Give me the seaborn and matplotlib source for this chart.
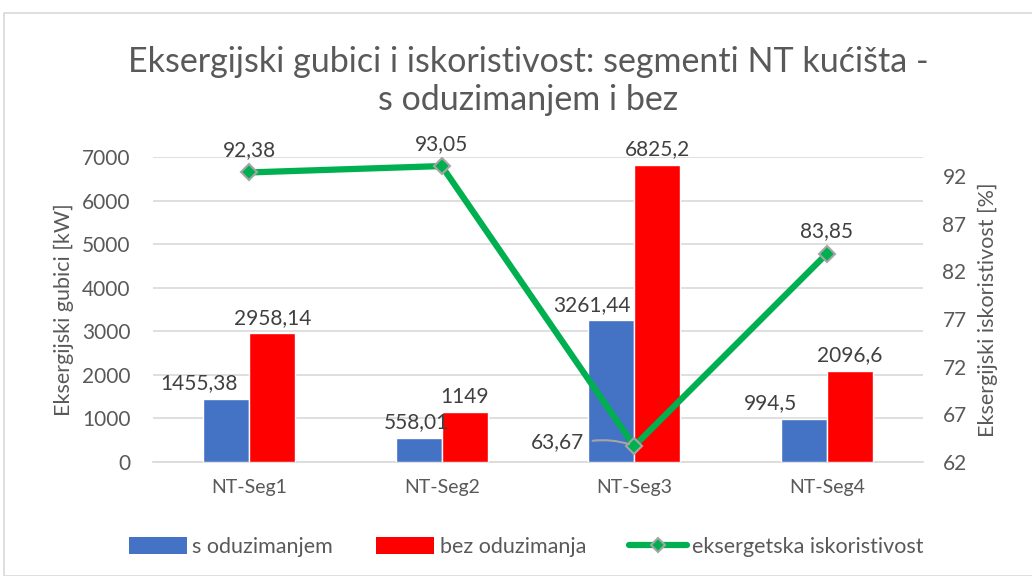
import matplotlib
matplotlib.use("Agg")
import matplotlib.pyplot as plt
from matplotlib.patches import Rectangle
from matplotlib.lines import Line2D
from matplotlib.patches import Patch
import seaborn as sns
import pandas as pd
import numpy as np

segments = ["NT-Seg1", "NT-Seg2", "NT-Seg3", "NT-Seg4"]
s_oduzimanjem = [1455.38, 558.01, 3261.44, 994.5]
bez_oduzimanja = [2958.14, 1149, 6825.2, 2096.6]
iskoristivost = [92.38, 93.05, 63.67, 83.85]
series_names = ["s oduzimanjem", "bez oduzimanja", "eksergetska iskoristivost"]
left_ticks = [0, 1000, 2000, 3000, 4000, 5000, 6000, 7000]
right_ticks = [62, 67, 72, 77, 82, 87, 92]

BLUE = "#4472C4"
RED = "#FF0000"
GREEN = "#00B050"
TEXT = "#595959"
GRID = "#D9D9D9"

sns.set_theme(style="white")
plt.rcParams["font.family"] = ["Lato", "DejaVu Sans"]
plt.rcParams["text.color"] = TEXT

def fmt(v):
    s = f"{v:.2f}".rstrip("0").rstrip(".")
    return s.replace(".", ",")

df = pd.DataFrame({
    "segment": segments * 2,
    "value": s_oduzimanjem + bez_oduzimanja,
    "serija": [series_names[0]] * 4 + [series_names[1]] * 4,
})

fig = plt.figure(figsize=(10.32, 5.76), dpi=100)
fig.patches.append(Rectangle((4 / 1032, 0), 1.0, (576 - 13) / 576, transform=fig.transFigure,
                             fill=False, edgecolor="#D9D9D9", linewidth=1.2, zorder=0))

ax = fig.add_axes([153 / 1032, (576 - 462) / 576, (923 - 153) / 1032, (462 - 157) / 576])
sns.barplot(data=df, x="segment", y="value", hue="serija", palette=[BLUE, RED],
            width=0.48, dodge=True, ax=ax, legend=False, saturation=1, zorder=3)
ax.set_ylim(0, 7000)
ax.set_xlim(-0.5, 3.5)
ax.set_yticks(left_ticks)
ax.set_yticklabels([str(t) for t in left_ticks])
ax.yaxis.grid(True, color=GRID, linewidth=1.2, zorder=0)
ax.set_axisbelow(True)
for sp in ax.spines.values():
    sp.set_visible(False)
ax.spines["bottom"].set_visible(True)
ax.spines["bottom"].set_color(GRID)
ax.spines["bottom"].set_linewidth(1.2)
ax.tick_params(axis="y", length=0, pad=16, labelsize=15, labelcolor=TEXT)
ax.tick_params(axis="x", length=0, pad=12, labelsize=14, labelcolor=TEXT)
ax.set_xlabel("")
ax.set_ylabel("Eksergijski gubici [kW]", fontsize=15.5, color=TEXT, labelpad=6)

# bar value labels
blue_dx = [-0.14, -0.01, -0.1, -0.17]
for i, v in enumerate(s_oduzimanjem):
    ax.text(i - 0.12 + blue_dx[i], v + 120, fmt(v), ha="center", va="bottom",
            fontsize=15, color="#404040")
for i, v in enumerate(bez_oduzimanja):
    ax.text(i + 0.12, v + 120, fmt(v), ha="center", va="bottom",
            fontsize=15, color="#404040")

ax2 = ax.twinx()
sns.lineplot(x=np.arange(len(segments)), y=iskoristivost, ax=ax2, color=GREEN,
             linewidth=4.5, marker="D", markersize=8, markerfacecolor=GREEN,
             markeredgecolor="#A5A5A5", markeredgewidth=1.5, zorder=5)
ax2.set_ylim(62, 94)
ax2.set_yticks(right_ticks)
ax2.set_yticklabels([str(t) for t in right_ticks])
for sp in ax2.spines.values():
    sp.set_visible(False)
ax2.tick_params(axis="y", length=0, pad=14, labelsize=15, labelcolor=TEXT)
ax2.set_ylabel("Eksergijski iskoristivost [%]", fontsize=15.5, color=TEXT, labelpad=8)
ax2.grid(False)

# line value labels; the low point gets a leader line from its label
for i, v in enumerate(iskoristivost):
    if i == 2:
        ax2.annotate(fmt(v), xy=(i, v), xytext=(i - 0.4, v + 0.4), ha="center", va="center",
                     fontsize=15, color="#404040", zorder=6,
                     arrowprops=dict(arrowstyle="-", color="#A5A5A5", lw=1.5,
                                     relpos=(1.0, 0.5), shrinkA=4, shrinkB=4,
                                     connectionstyle="arc3,rad=-0.15"))
    else:
        ax2.text(i, v + 1.3, fmt(v), ha="center", va="bottom", fontsize=15, color="#404040")

fig.text(0.512, 0.892, "Eksergijski gubici i iskoristivost: segmenti NT kućišta -",
         ha="center", va="center", fontsize=24.5, color=TEXT)
fig.text(0.512, 0.826, "s oduzimanjem i bez", ha="center", va="center", fontsize=24.5, color=TEXT)

handles = [
    Patch(facecolor=BLUE, edgecolor="none"),
    Patch(facecolor=RED, edgecolor="none"),
    Line2D([0], [0], color=GREEN, linewidth=4.5, marker="D", markersize=7,
           markerfacecolor=GREEN, markeredgecolor="#A5A5A5", markeredgewidth=1.5),
]
leg = fig.legend(handles, series_names, loc="center", bbox_to_anchor=(0.51, 0.05),
                 ncol=3, frameon=False, fontsize=15.5, handlelength=2.7, handleheight=0.8,
                 handletextpad=0.25, columnspacing=2.0, labelcolor=TEXT)

fig.savefig("out.png", dpi=100)
